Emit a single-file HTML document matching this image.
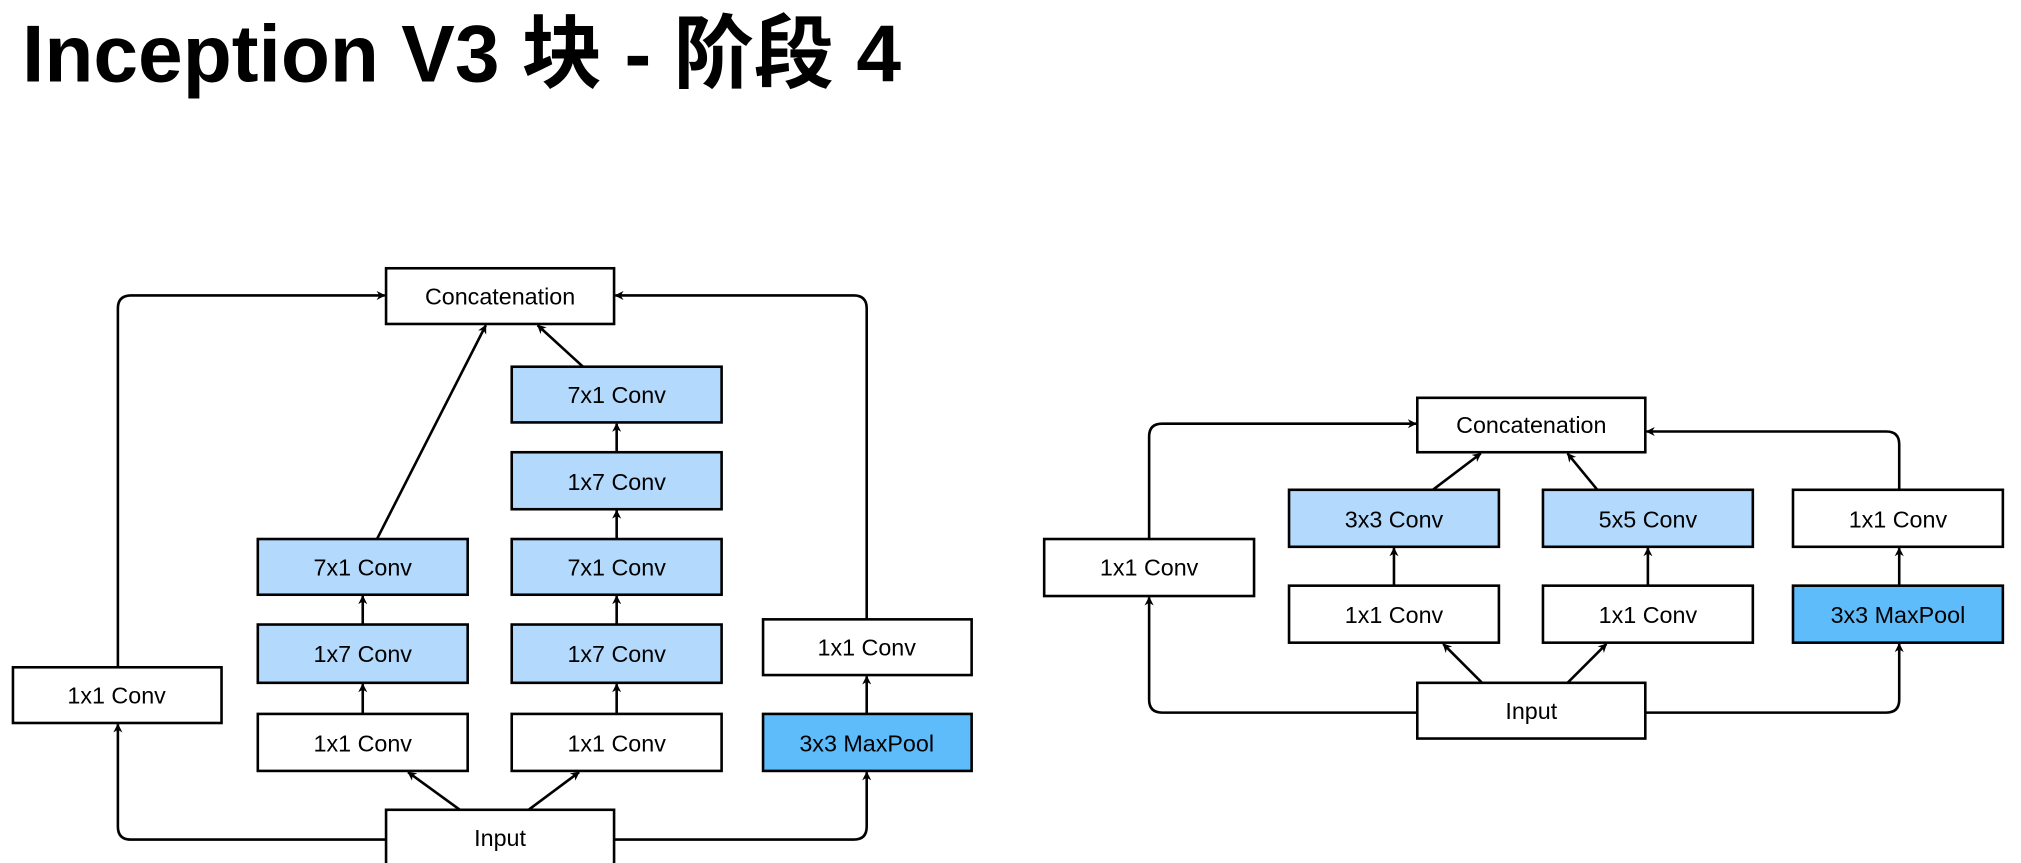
<!DOCTYPE html>
<html><head><meta charset="utf-8"><style>
html,body{margin:0;padding:0;background:#fff;}
svg{display:block;}
text{font-family:"Liberation Sans","Noto Sans CJK SC",sans-serif;}
</style></head><body>
<svg width="2021" height="863" viewBox="0 0 1560 666" xmlns="http://www.w3.org/2000/svg">
<defs>
<marker id="a" viewBox="0 0 10 10" refX="9" refY="5" markerWidth="7" markerHeight="7" orient="auto-start-reverse" markerUnits="userSpaceOnUse">
<path d="M0,0 L10,5 L0,10 L3,5 z" fill="#000"/>
</marker>
</defs>
<text x="17" y="63" font-size="62" font-weight="bold" fill="#000">Inception V3 块 - 阶段 4</text>
<g stroke="#000" stroke-width="2" fill="none">
<!-- left diagram connectors -->
<path d="M91,515 V238 Q91,228 101,228 H297" marker-end="url(#a)"/>
<path d="M298,648 H101 Q91,648 91,638 V559" marker-end="url(#a)"/>
<path d="M669,478 V238 Q669,228 659,228 H475" marker-end="url(#a)"/>
<path d="M474,648 H659 Q669,648 669,638 V596" marker-end="url(#a)"/>
<path d="M291,416 L375,251" marker-end="url(#a)"/>
<path d="M450,283 L415,251" marker-end="url(#a)"/>
<path d="M280,551 V528" marker-end="url(#a)"/>
<path d="M280,482 V460" marker-end="url(#a)"/>
<path d="M476,551 V528" marker-end="url(#a)"/>
<path d="M476,482 V460" marker-end="url(#a)"/>
<path d="M476,416 V394" marker-end="url(#a)"/>
<path d="M476,349 V327" marker-end="url(#a)"/>
<path d="M669,551 V522" marker-end="url(#a)"/>
<path d="M355,625 L315,596" marker-end="url(#a)"/>
<path d="M408,625 L447,596" marker-end="url(#a)"/>
<!-- right diagram connectors -->
<path d="M887,416 V337 Q887,327 897,327 H1093" marker-end="url(#a)"/>
<path d="M1094,550 H897 Q887,550 887,540 V461" marker-end="url(#a)"/>
<path d="M1466,378 V343 Q1466,333 1456,333 H1271" marker-end="url(#a)"/>
<path d="M1270,550 H1456 Q1466,550 1466,540 V497" marker-end="url(#a)"/>
<path d="M1106,378 L1143,350" marker-end="url(#a)"/>
<path d="M1233,378 L1210,350" marker-end="url(#a)"/>
<path d="M1076,452 V423" marker-end="url(#a)"/>
<path d="M1272,452 V423" marker-end="url(#a)"/>
<path d="M1466,452 V423" marker-end="url(#a)"/>
<path d="M1144,527 L1114,497" marker-end="url(#a)"/>
<path d="M1210,527 L1240,497" marker-end="url(#a)"/>
</g>
<g stroke="#000" stroke-width="2" font-size="18" text-anchor="middle">
<!-- left -->
<rect x="298" y="207" width="176" height="43" fill="#fff"/><text x="386" y="235" stroke="none">Concatenation</text>
<rect x="10" y="515" width="161" height="43" fill="#fff"/><text x="90" y="543" stroke="none">1x1 Conv</text>
<rect x="199" y="416" width="162" height="43" fill="#b3d9fc"/><text x="280" y="444" stroke="none">7x1 Conv</text>
<rect x="199" y="482" width="162" height="45" fill="#b3d9fc"/><text x="280" y="511" stroke="none">1x7 Conv</text>
<rect x="199" y="551" width="162" height="44" fill="#fff"/><text x="280" y="580" stroke="none">1x1 Conv</text>
<rect x="395" y="283" width="162" height="43" fill="#b3d9fc"/><text x="476" y="311" stroke="none">7x1 Conv</text>
<rect x="395" y="349" width="162" height="44" fill="#b3d9fc"/><text x="476" y="378" stroke="none">1x7 Conv</text>
<rect x="395" y="416" width="162" height="43" fill="#b3d9fc"/><text x="476" y="444" stroke="none">7x1 Conv</text>
<rect x="395" y="482" width="162" height="45" fill="#b3d9fc"/><text x="476" y="511" stroke="none">1x7 Conv</text>
<rect x="395" y="551" width="162" height="44" fill="#fff"/><text x="476" y="580" stroke="none">1x1 Conv</text>
<rect x="589" y="478" width="161" height="43" fill="#fff"/><text x="669" y="506" stroke="none">1x1 Conv</text>
<rect x="589" y="551" width="161" height="44" fill="#5fbcfb"/><text x="669" y="580" stroke="none">3x3 MaxPool</text>
<rect x="298" y="625" width="176" height="43" fill="#fff"/><text x="386" y="653" stroke="none">Input</text>
<!-- right -->
<rect x="1094" y="307" width="176" height="42" fill="#fff"/><text x="1182" y="334" stroke="none">Concatenation</text>
<rect x="806" y="416" width="162" height="44" fill="#fff"/><text x="887" y="444" stroke="none">1x1 Conv</text>
<rect x="995" y="378" width="162" height="44" fill="#b3d9fc"/><text x="1076" y="407" stroke="none">3x3 Conv</text>
<rect x="995" y="452" width="162" height="44" fill="#fff"/><text x="1076" y="481" stroke="none">1x1 Conv</text>
<rect x="1191" y="378" width="162" height="44" fill="#b3d9fc"/><text x="1272" y="407" stroke="none">5x5 Conv</text>
<rect x="1191" y="452" width="162" height="44" fill="#fff"/><text x="1272" y="481" stroke="none">1x1 Conv</text>
<rect x="1384" y="378" width="162" height="44" fill="#fff"/><text x="1465" y="407" stroke="none">1x1 Conv</text>
<rect x="1384" y="452" width="162" height="44" fill="#5fbcfb"/><text x="1465" y="481" stroke="none">3x3 MaxPool</text>
<rect x="1094" y="527" width="176" height="43" fill="#fff"/><text x="1182" y="555" stroke="none">Input</text>
</g>
</svg>
</body></html>
